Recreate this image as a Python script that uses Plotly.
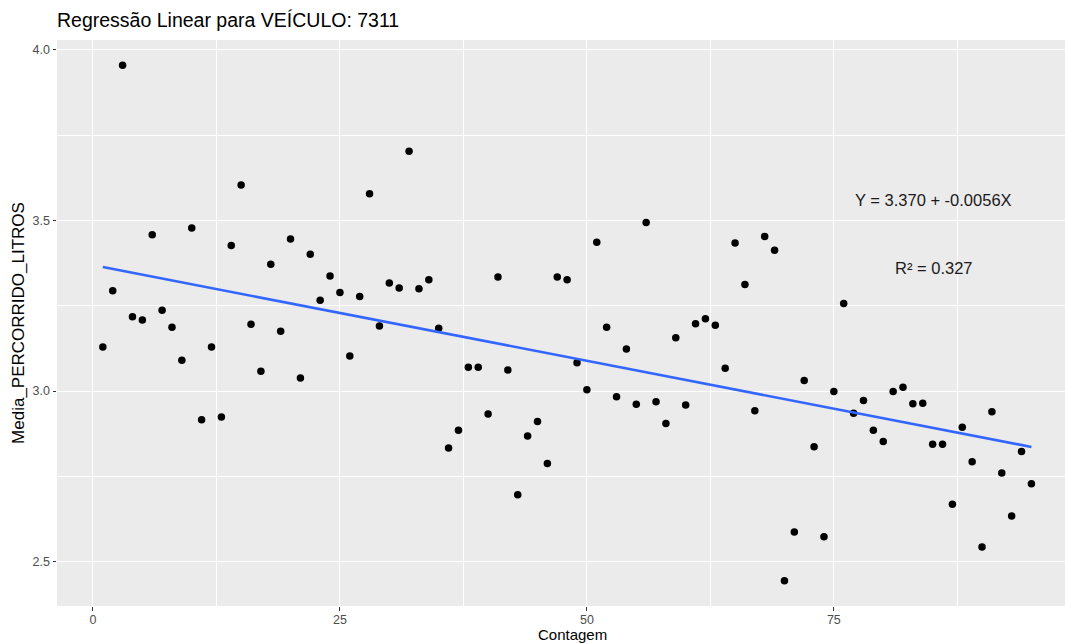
import numpy as np
import plotly.graph_objects as go

contagem = list(range(1, 96))
media_litros = [
    3.129, 3.294, 3.955, 3.218, 3.208, 3.458, 3.237, 3.187, 3.090, 3.478,
    2.916, 3.129, 2.924, 3.427, 3.604, 3.196, 3.058, 3.372, 3.175, 3.446,
    3.038, 3.401, 3.266, 3.337, 3.289, 3.103, 3.277, 3.578, 3.191, 3.317,
    3.302, 3.703, 3.300, 3.326, 3.184, 2.833, 2.885, 3.070, 3.070, 2.933,
    3.334, 3.062, 2.696, 2.868, 2.911, 2.788, 3.334, 3.326, 3.083, 3.004,
    3.436, 3.187, 2.983, 3.123, 2.961, 3.494, 2.969, 2.905, 3.156, 2.959,
    3.197, 3.212, 3.193, 3.067, 3.434, 3.312, 2.942, 3.453, 3.413, 2.444,
    2.587, 3.031, 2.837, 2.573, 2.999, 3.257, 2.935, 2.972, 2.885, 2.852,
    2.999, 3.011, 2.963, 2.964, 2.844, 2.844, 2.668, 2.894, 2.793, 2.543,
    2.939, 2.760, 2.634, 2.823, 2.728,
]
x_ticks = [0, 25, 50, 75]
y_ticks = [2.5, 3.0, 3.5, 4.0]
equation_text = "Y = 3.370 + -0.0056X"
r2_text = "R² = 0.327"
title_text = "Regressão Linear para VEÍCULO: 7311"
x_title = "Contagem"
y_title = "Media_PERCORRIDO_LITROS"

FONT = "Liberation Sans, Arial"
W, H = 1065, 644
ML, MR, MT, MB = 57, 0, 40, 38

x = np.array(contagem, dtype=float)
y = np.array(media_litros, dtype=float)
slope, intercept = np.polyfit(x, y, 1)
fit_x = [x.min(), x.max()]
fit_y = [intercept + slope * v for v in fit_x]

fig = go.Figure()
fig.add_trace(go.Scatter(x=contagem, y=media_litros, mode="markers",
                         marker=dict(color="black", size=7.5, line=dict(width=0)),
                         showlegend=False, hoverinfo="x+y"))
fig.add_trace(go.Scatter(x=fit_x, y=fit_y, mode="lines",
                         line=dict(color="#3366FF", width=2.6),
                         showlegend=False))

fig.add_annotation(x=85.1, y=3.56, text=equation_text, showarrow=False,
                   font=dict(size=16.5, color="#1a1a1a", family=FONT))
fig.add_annotation(x=85.1, y=3.36, text=r2_text, showarrow=False,
                   font=dict(size=16.5, color="#1a1a1a", family=FONT))

# x-axis title (the original panel is cropped on the right, so its title sits right of centre)
fig.add_annotation(xref="paper", yref="paper", x=(572 - ML) / (W - ML - MR),
                   y=-MB / (H - MT - MB), yanchor="bottom", xanchor="center",
                   borderpad=0, text=x_title, showarrow=False,
                   font=dict(size=15, color="black", family=FONT))

axis_common = dict(
    showgrid=True, gridcolor="white", gridwidth=1.3,
    zeroline=False, showline=False,
    ticks="outside", ticklen=3.5, tickwidth=1.1, tickcolor="#333333",
    tickfont=dict(size=12.5, color="#4d4d4d", family=FONT),
    automargin=False,
)

fig.update_xaxes(
    range=[-3.64, 98.4], tickvals=x_ticks, ticktext=[str(t) for t in x_ticks],
    ticklabelstandoff=-2,
    minor=dict(tickvals=[12.5, 37.5, 62.5, 87.5], showgrid=True,
               gridcolor="white", gridwidth=0.6, ticks=""),
    **axis_common,
)
fig.update_yaxes(
    range=[2.370, 4.029], tickvals=y_ticks, ticktext=[f"{t:.1f}" for t in y_ticks],
    title=dict(text=y_title, standoff=3, font=dict(size=17, color="black", family=FONT)),
    minor=dict(tickvals=[2.75, 3.25, 3.75], showgrid=True,
               gridcolor="white", gridwidth=0.6, ticks=""),
    **axis_common,
)

fig.update_layout(
    width=W, height=H,
    margin=dict(l=ML, r=MR, t=MT, b=MB),
    paper_bgcolor="white", plot_bgcolor="#EBEBEB",
    title=dict(text=title_text, x=ML / W, xanchor="left", y=1 - 20 / H, yanchor="middle",
               font=dict(size=19.5, color="black", family=FONT)),
    font=dict(family=FONT),
)

fig.write_html("out.html")
